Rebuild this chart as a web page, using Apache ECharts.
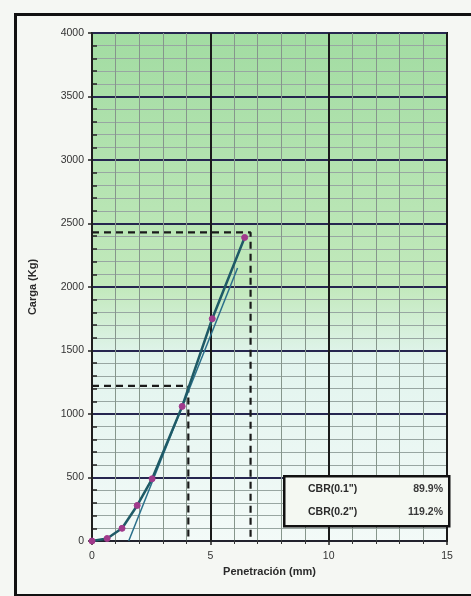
<!DOCTYPE html>
<html>
<head>
<meta charset="utf-8">
<script src="https://cdn.jsdelivr.net/npm/echarts@6/dist/echarts.min.js"></script>
<style>
html,body{margin:0;padding:0;background:#ffffff;}
#c{width:471px;height:596px;}
</style>
</head>
<body>
<div id="c"></div>
<script>
// Penetration (mm) and load (kg) readings
const penetration = [0, 0.64, 1.27, 1.91, 2.54, 3.81, 5.08, 6.45];
const load = [0, 20, 100, 280, 490, 1060, 1750, 2390];
// corrected straight line
const corrX = [1.55, 6.15];
const corrY = [0, 2150];
// corrected CBR readings
const cbrX = [4.07, 6.7];
const cbrY = [1222, 2430];
const cbrLabels = ['CBR(0.1")', 'CBR(0.2")'];
const cbrValues = ['89.9%', '119.2%'];
const xTicks = [0, 5, 10, 15];
const yTicks = [0, 500, 1000, 1500, 2000, 2500, 3000, 3500, 4000];

const chart = echarts.init(document.getElementById('c'));
const pts = penetration.map((x, i) => [x, load[i]]);
const corr = corrX.map((x, i) => [x, corrY[i]]);
const dash1 = [[0, cbrY[0]], [cbrX[0], cbrY[0]], [cbrX[0], 0]];
const dash2 = [[0, cbrY[1]], [cbrX[1], cbrY[1]], [cbrX[1], 0]];

const font = 'Liberation Sans, Arial, sans-serif';
chart.setOption({
  backgroundColor: '#f5f7f3',
  animation: false,
  grid: {
    left: 92, right: 24, top: 33, bottom: 55,
    show: true,
    borderColor: '#111',
    borderWidth: 2,
    backgroundColor: new echarts.graphic.LinearGradient(0, 0, 0, 1, [
      {offset: 0, color: '#a2dca2'},
      {offset: 0.5, color: '#c2e9bc'},
      {offset: 0.64, color: '#e2f4ee'},
      {offset: 1, color: '#f3faf8'}
    ])
  },
  xAxis: {
    type: 'value', min: 0, max: 15, interval: 5,
    name: 'Penetración (mm)', nameLocation: 'middle', nameGap: 24,
    nameTextStyle: {fontFamily: font, fontWeight: 'bold', fontSize: 11, color: '#2a2a2a'},
    axisLine: {show: true, lineStyle: {color: '#222', width: 1.5}},
    axisTick: {show: true, length: 4, lineStyle: {color: '#222', width: 1.5}},
    axisLabel: {fontFamily: font, fontSize: 10.5, color: '#333', margin: 10,
      formatter: v => xTicks.includes(v) ? String(v) : ''},
    splitLine: {show: true, lineStyle: {color: '#1a1a1a', width: 2}},
    minorTick: {show: true, splitNumber: 5, length: 3, lineStyle: {color: '#333'}},
    minorSplitLine: {show: true, lineStyle: {color: '#86968c', width: 1}}
  },
  yAxis: {
    type: 'value', min: 0, max: 4000, interval: 500,
    name: 'Carga (Kg)', nameLocation: 'middle', nameGap: 54,
    nameTextStyle: {fontFamily: font, fontWeight: 'bold', fontSize: 11, color: '#2a2a2a'},
    axisLine: {show: true, lineStyle: {color: '#222', width: 1.5}},
    axisTick: {show: true, length: 4, lineStyle: {color: '#222', width: 1.5}},
    axisLabel: {fontFamily: font, fontSize: 10.5, color: '#333', margin: 8,
      formatter: v => yTicks.includes(v) ? String(v) : ''},
    splitLine: {show: true, lineStyle: {color: '#262650', width: 2}},
    minorTick: {show: true, splitNumber: 5, length: -5, lineStyle: {color: '#222', width: 1.5}},
    minorSplitLine: {show: true, lineStyle: {color: '#98a6a2', width: 1}}
  },
  series: [
    {
      type: 'line', data: dash1, symbol: 'none', z: 3,
      lineStyle: {type: [7, 5], color: '#1a1a1a', width: 2.2}
    },
    {
      type: 'line', data: dash2, symbol: 'none', z: 3,
      lineStyle: {type: [7, 5], color: '#1a1a1a', width: 2.2}
    },
    {
      type: 'line', data: corr, symbol: 'none', z: 4,
      lineStyle: {color: '#2a6f8a', width: 1.5}
    },
    {
      type: 'line', data: pts, symbol: 'circle', symbolSize: 6, z: 5,
      lineStyle: {color: '#1e5a66', width: 2.5},
      itemStyle: {color: '#a03a8c', borderColor: '#a03a8c'}
    }
  ],
  graphic: [
    {
      type: 'rect', left: 13, top: 12,
      shape: {width: 470, height: 581},
      style: {fill: null, stroke: '#111', lineWidth: 3}, z: 10
    },
    {
      type: 'rect', left: 283, top: 475,
      shape: {width: 165, height: 50},
      style: {fill: '#f4f8f2', stroke: '#111', lineWidth: 2.5}, z: 20
    },
    {
      type: 'text', left: 308, top: 484, z: 21,
      style: {text: cbrLabels[0], font: 'bold 10.5px ' + font, fill: '#2a2a2a'}
    },
    {
      type: 'text', right: 28, top: 484, z: 21,
      style: {text: cbrValues[0], font: 'bold 10.5px ' + font, fill: '#3a3a3a'}
    },
    {
      type: 'text', left: 308, top: 507, z: 21,
      style: {text: cbrLabels[1], font: 'bold 10.5px ' + font, fill: '#2a2a2a'}
    },
    {
      type: 'text', right: 28, top: 507, z: 21,
      style: {text: cbrValues[1], font: 'bold 10.5px ' + font, fill: '#3a3a3a'}
    }
  ]
});
</script>
</body>
</html>
